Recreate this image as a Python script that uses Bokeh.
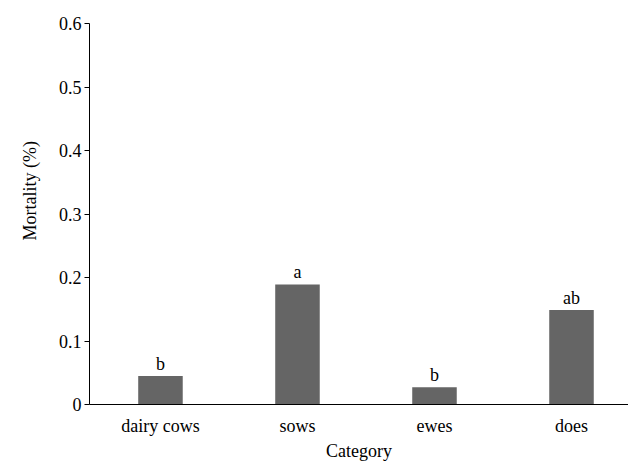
from bokeh.plotting import figure
from bokeh.models import Range1d, FixedTicker, Title, ColumnDataSource
from bokeh.core.properties import value
from bokeh.embed import file_html
from bokeh.resources import INLINE

categories = ["dairy cows", "sows", "ewes", "does"]
mortality = [0.045, 0.189, 0.027, 0.149]
letters = ["b", "a", "b", "ab"]
y_ticks = [0, 0.1, 0.2, 0.3, 0.4, 0.5, 0.6]
y_tick_labels = ["0", "0.1", "0.2", "0.3", "0.4", "0.5", "0.6"]

FONT = "Liberation Serif"
FS = "18px"

xs = list(range(len(categories)))
src = ColumnDataSource(dict(x=xs, y=mortality, lab=letters))

p = figure(width=628, height=464, output_backend="svg", toolbar_location=None,
           x_range=Range1d(-0.518, 3.416), y_range=Range1d(0, 0.6),
           min_border_left=89, min_border_right=0, min_border_top=23, min_border_bottom=60)
p.outline_line_color = None
p.grid.visible = False
p.background_fill_color = "white"
p.border_fill_color = "white"

p.vbar(x="x", top="y", width=0.325, bottom=0, source=src,
       fill_color="#656565", line_color=None)
p.text(x="x", y="y", text="lab", source=src, text_align="center",
       text_baseline="alphabetic", y_offset=-12,
       text_font=value(FONT), text_font_size=FS, text_color="black")

# y axis
ya = p.yaxis[0]
ya.ticker = FixedTicker(ticks=y_ticks)
ya.major_label_overrides = {t: l for t, l in zip(y_ticks, y_tick_labels)}
ya.major_tick_in = 0
ya.major_tick_out = 5
ya.minor_tick_line_color = None
ya.major_label_standoff = 3
ya.major_label_text_font = FONT
ya.major_label_text_font_size = FS
ya.major_label_text_color = "black"
ya.axis_line_color = "black"
ya.major_tick_line_color = "black"

# x axis
xa = p.xaxis[0]
xa.ticker = FixedTicker(ticks=xs)
xa.major_label_overrides = {i: c for i, c in zip(xs, categories)}
xa.major_tick_line_color = None
xa.minor_tick_line_color = None
xa.major_label_standoff = 5
xa.major_label_text_font = FONT
xa.major_label_text_font_size = FS
xa.major_label_text_color = "black"
xa.axis_line_color = "black"
xa.axis_label = "Category"
xa.axis_label_standoff = 2
xa.axis_label_text_font = FONT
xa.axis_label_text_font_size = FS
xa.axis_label_text_font_style = "normal"
xa.axis_label_text_color = "black"

ytitle = Title(text="Mortality (%)", align="left", offset=164, standoff=32,
               text_font=FONT, text_font_size=FS, text_font_style="normal",
               text_color="black")
p.add_layout(ytitle, "left")

open("out.html", "w").write(file_html(p, INLINE))
